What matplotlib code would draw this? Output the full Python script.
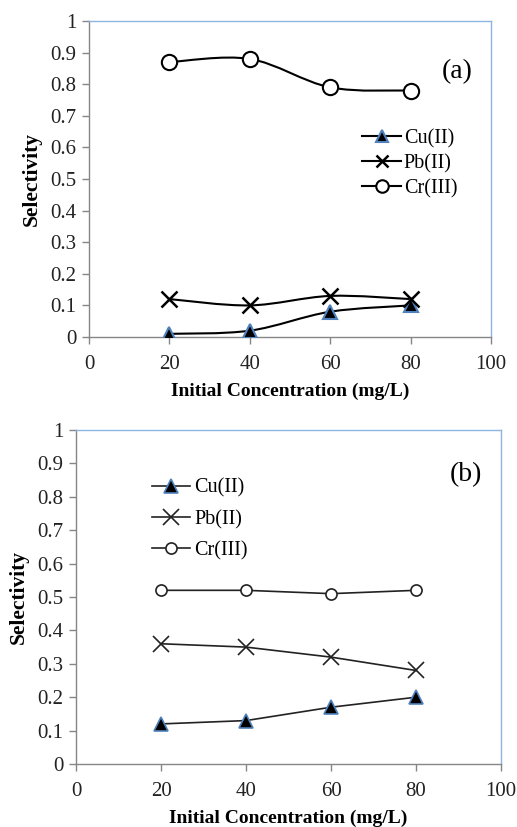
import numpy as np
import matplotlib
matplotlib.use('Agg')
import matplotlib.pyplot as plt
from matplotlib.path import Path
from matplotlib.patches import PathPatch
from matplotlib.lines import Line2D

plt.rcParams['font.family'] = ['Liberation Serif', 'DejaVu Serif']

conc = [20, 40, 60, 80]
xticks = [0, 20, 40, 60, 80, 100]
yticks = [0, 0.1, 0.2, 0.3, 0.4, 0.5, 0.6, 0.7, 0.8, 0.9, 1]
ytick_labels = ['0', '0.1', '0.2', '0.3', '0.4', '0.5', '0.6', '0.7', '0.8', '0.9', '1']

# panel (a)
cu_a = [0.01, 0.02, 0.08, 0.10]
pb_a = [0.12, 0.10, 0.13, 0.12]
cr_a = [0.87, 0.88, 0.79, 0.78]

# panel (b)
cu_b = [0.12, 0.13, 0.17, 0.20]
pb_b = [0.36, 0.35, 0.32, 0.28]
cr_b = [0.52, 0.52, 0.51, 0.52]

names = ['Cu(II)', 'Pb(II)', 'Cr(III)']
blue_edge = '#4F81BD'
frame = '#8EB4E3'
gray = '#868686'


def smooth_path(ax, x, y, **kw):
    # excel-style smoothed line, bezier through the points
    x = np.asarray(x, float)
    y = np.asarray(y, float)
    verts = [(x[0], y[0])]
    codes = [Path.MOVETO]
    n = len(x)
    for i in range(n - 1):
        p0 = (x[max(i - 1, 0)], y[max(i - 1, 0)])
        p1 = (x[i], y[i])
        p2 = (x[i + 1], y[i + 1])
        p3 = (x[min(i + 2, n - 1)], y[min(i + 2, n - 1)])
        c1 = (p1[0] + (p2[0] - p0[0]) / 6, p1[1] + (p2[1] - p0[1]) / 6)
        c2 = (p2[0] - (p3[0] - p1[0]) / 6, p2[1] - (p3[1] - p1[1]) / 6)
        verts += [c1, c2, p2]
        codes += [Path.CURVE4] * 3
    ax.add_patch(PathPatch(Path(verts, codes), fill=False, **kw))


def style_axes(ax):
    ax.set_xlim(0, 100)
    ax.set_ylim(0, 1)
    ax.set_xticks(xticks)
    ax.set_yticks(yticks)
    ax.set_yticklabels(ytick_labels)
    for s in ['left', 'bottom']:
        ax.spines[s].set_color(gray)
        ax.spines[s].set_linewidth(1.0)
    for s in ['top', 'right']:
        ax.spines[s].set_color(frame)
        ax.spines[s].set_linewidth(1.0)
    ax.tick_params(direction='out', length=5, width=1, color=gray,
                   labelsize=15, labelcolor='#222222')
    ax.tick_params(axis='x', pad=8)
    ax.tick_params(axis='y', pad=4)
    ax.set_xlabel('Initial Concentration (mg/L)', fontsize=14, fontweight='bold', labelpad=6)
    ax.set_ylabel('Selectivity', fontsize=15.5, fontweight='bold', labelpad=6)


fig = plt.figure(figsize=(5.17, 8.27), dpi=100)

# ---- (a) ----
ax1 = fig.add_axes([89 / 517, 1 - 337 / 827, (491 - 89) / 517, (337 - 21) / 827])
style_axes(ax1)
for yy in [cu_a, pb_a, cr_a]:
    smooth_path(ax1, conc, yy, color='black', lw=1.5, zorder=2)
ax1.plot(conc, cu_a, ls='none', marker='^', ms=10, mfc='black', mec=blue_edge, mew=1.5, zorder=3)
ax1.plot(conc, pb_a, ls='none', marker='x', ms=11, mec='black', mew=1.8, zorder=3)
ax1.plot(conc, cr_a, ls='none', marker='o', ms=11, mfc='white', mec='black', mew=1.5, zorder=3)
h_a = [Line2D([], [], color='black', lw=1.5, marker='^', ms=9, mfc='black', mec=blue_edge, mew=1.5),
       Line2D([], [], color='black', lw=1.5, marker='x', ms=9, mec='black', mew=1.8),
       Line2D([], [], color='black', lw=1.5, marker='o', ms=9, mfc='white', mec='black', mew=1.5)]
ax1.legend(h_a, names, loc='upper left', bbox_to_anchor=(0.655, 0.69), frameon=False,
           fontsize=14.5, handlelength=1.9, handletextpad=0.15, labelspacing=0.28, borderpad=0)
ax1.text(0.955, 0.84, '(a)', transform=ax1.transAxes, fontsize=20, ha='right', va='center')

# ---- (b) ----
ax2 = fig.add_axes([76 / 517, 1 - 764 / 827, (501 - 76) / 517, (764 - 430) / 827])
style_axes(ax2)
ax2.plot(conc, cu_b, color='#222222', lw=1.2, marker='^', ms=10, mfc='black', mec=blue_edge, mew=1.2)
ax2.plot(conc, pb_b, color='#222222', lw=1.2, marker='x', ms=12, mec='#222222', mew=1.2)
ax2.plot(conc, cr_b, color='#222222', lw=1.2, marker='o', ms=8, mfc='white', mec='#222222', mew=1.2)
ax2.legend(names, loc='upper left', bbox_to_anchor=(0.155, 0.885), frameon=False,
           fontsize=14.5, handlelength=1.9, handletextpad=0.2, labelspacing=0.6, borderpad=0)
ax2.text(0.955, 0.865, '(b)', transform=ax2.transAxes, fontsize=20, ha='right', va='center')

fig.savefig('out.png', dpi=100)
